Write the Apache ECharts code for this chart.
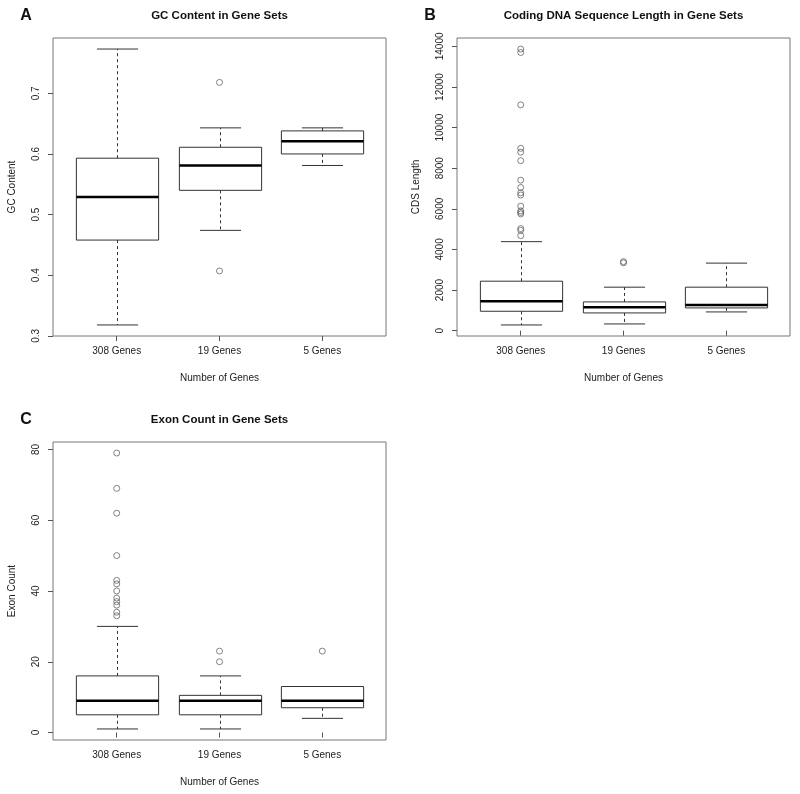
<!DOCTYPE html>
<html>
<head>
<meta charset="utf-8">
<script src="https://cdn.jsdelivr.net/npm/echarts@6/dist/echarts.min.js"></script>
<style>
html,body{margin:0;padding:0;background:#fff;}
#chart{width:800px;height:794px;}
</style>
</head>
<body>
<div id="chart"></div>
<script>
// ---- data ----
var categories = ['308 Genes', '19 Genes', '5 Genes'];

// stats per category: [lower whisker, Q1, median, Q3, upper whisker]
var gcStats = [
  [0.318, 0.458, 0.529, 0.593, 0.773],
  [0.474, 0.540, 0.581, 0.611, 0.643],
  [0.581, 0.600, 0.621, 0.638, 0.643]
];
// outliers: [category index (1-based), value]
var gcOutliers = [[2, 0.718], [2, 0.407]];
var gcTicks = [0.3, 0.4, 0.5, 0.6, 0.7];

var cdsStats = [
  [280, 955, 1450, 2436, 4383],
  [330, 873, 1153, 1416, 2141],
  [922, 1120, 1268, 2141, 3326]
];
var cdsOutliers = [
  [1, 13870], [1, 13700], [1, 11120], [1, 8980], [1, 8790], [1, 8370],
  [1, 7410], [1, 7050], [1, 6790], [1, 6680], [1, 6130], [1, 5900],
  [1, 5820], [1, 5750], [1, 5030], [1, 4940], [1, 4680],
  [2, 3400], [2, 3340]
];
var cdsTicks = [0, 2000, 4000, 6000, 8000, 10000, 12000, 14000];

var exonStats = [
  [1, 5, 9, 16, 30],
  [1, 5, 9, 10.5, 16],
  [4, 7, 9, 13, 13]
];
var exonOutliers = [
  [1, 79], [1, 69], [1, 62], [1, 50], [1, 43], [1, 42], [1, 40],
  [1, 38], [1, 37], [1, 36], [1, 34], [1, 33],
  [2, 23], [2, 20],
  [3, 23]
];
var exonTicks = [0, 20, 40, 60, 80];

var panelTitles = ['GC Content in Gene Sets', 'Coding DNA Sequence Length in Gene Sets', 'Exon Count in Gene Sets'];
var panelLetters = ['A', 'B', 'C'];
var yNames = ['GC Content', 'CDS Length', 'Exon Count'];
var xName = 'Number of Genes';

// ---- build ----
var FONT = '"Liberation Sans", Arial, Helvetica, sans-serif';
var panels = [
  {stats: gcStats, out: gcOutliers, ticks: gcTicks, grid: {left: 53, top: 38, width: 333, height: 298}},
  {stats: cdsStats, out: cdsOutliers, ticks: cdsTicks, grid: {left: 457, top: 38, width: 333, height: 298}},
  {stats: exonStats, out: exonOutliers, ticks: exonTicks, grid: {left: 53, top: 442, width: 333, height: 298}}
];

function rangeOf(stats, out) {
  var lo = Infinity, hi = -Infinity;
  stats.forEach(function (s) { s.forEach(function (v) { lo = Math.min(lo, v); hi = Math.max(hi, v); }); });
  out.forEach(function (o) { lo = Math.min(lo, o[1]); hi = Math.max(hi, o[1]); });
  var ext = (hi - lo) * 0.04;
  return [lo - ext, hi + ext];
}

function renderBox(params, api) {
  var x = api.value(0);
  var lo = api.coord([x, api.value(1)]);
  var q1 = api.coord([x, api.value(2)]);
  var md = api.coord([x, api.value(3)]);
  var q3 = api.coord([x, api.value(4)]);
  var hi = api.coord([x, api.value(5)]);
  var halfW = api.size([0.8, 0])[0] / 2;
  var capW = halfW / 2;
  var cx = Math.round(q1[0]) + 0.5;
  var dash = {stroke: '#333', lineWidth: 1, lineDash: [3, 3]};
  var solid = {stroke: '#333', lineWidth: 1};
  return {
    type: 'group',
    children: [
      {type: 'line', shape: {x1: cx, y1: q3[1], x2: cx, y2: hi[1]}, style: dash},
      {type: 'line', shape: {x1: cx, y1: q1[1], x2: cx, y2: lo[1]}, style: dash},
      {type: 'line', shape: {x1: cx - capW, y1: hi[1], x2: cx + capW, y2: hi[1]}, style: solid},
      {type: 'line', shape: {x1: cx - capW, y1: lo[1], x2: cx + capW, y2: lo[1]}, style: solid},
      {type: 'rect', shape: {x: cx - halfW, y: q3[1], width: 2 * halfW, height: q1[1] - q3[1]},
        style: {fill: '#fff', stroke: '#333', lineWidth: 1}},
      {type: 'line', shape: {x1: cx - halfW, y1: md[1], x2: cx + halfW, y2: md[1]},
        style: {stroke: '#000', lineWidth: 2.5}}
    ]
  };
}

var option = {
  animation: false,
  backgroundColor: '#fff',
  textStyle: {fontFamily: FONT},
  grid: [], xAxis: [], yAxis: [], series: [], graphic: []
};

panels.forEach(function (p, i) {
  var r = rangeOf(p.stats, p.out);
  option.grid.push(Object.assign({show: true, borderColor: '#777', borderWidth: 1, backgroundColor: 'transparent'}, p.grid));
  option.xAxis.push({
    type: 'value', gridIndex: i, min: 0.38, max: 3.62,
    axisLine: {show: false}, splitLine: {show: false},
    axisTick: {show: true, customValues: [1, 2, 3], length: 5, lineStyle: {color: '#555'}},
    axisLabel: {show: true, customValues: [1, 2, 3], margin: 10, fontSize: 10, color: '#222', fontFamily: FONT,
      formatter: function (v) { return categories[Math.round(v) - 1] || ''; }},
    name: xName, nameLocation: 'middle', nameGap: 37,
    nameTextStyle: {fontSize: 10, color: '#222', fontFamily: FONT}
  });
  option.yAxis.push({
    type: 'value', gridIndex: i, min: r[0], max: r[1],
    axisLine: {show: false}, splitLine: {show: false},
    axisTick: {show: true, customValues: p.ticks, length: 5, lineStyle: {color: '#555'}},
    axisLabel: {show: true, customValues: p.ticks, rotate: 90, margin: 12, fontSize: 10, color: '#222', fontFamily: FONT,
      formatter: function (v) { return String(v); }},
    name: yNames[i], nameLocation: 'middle', nameGap: 36, nameRotate: 90,
    nameTextStyle: {fontSize: 10, color: '#222', fontFamily: FONT}
  });
  option.series.push({
    type: 'custom', xAxisIndex: i, yAxisIndex: i,
    renderItem: renderBox,
    encode: {x: 0, y: [1, 2, 3, 4, 5]},
    data: p.stats.map(function (s, k) { return [k + 1].concat(s); }),
    z: 2
  });
  option.series.push({
    type: 'scatter', xAxisIndex: i, yAxisIndex: i,
    symbol: 'circle', symbolSize: 6,
    itemStyle: {color: 'rgba(255,255,255,0)', borderColor: '#555', borderWidth: 0.9},
    data: p.out,
    z: 3
  });
  var cxTitle = p.grid.left + p.grid.width / 2;
  option.graphic.push({
    type: 'text', x: cxTitle, y: p.grid.top - 22,
    style: {text: panelTitles[i], font: 'bold 11.5px ' + FONT, fill: '#111', textAlign: 'center', textVerticalAlign: 'middle'}
  });
  option.graphic.push({
    type: 'text', x: p.grid.left - 27, y: p.grid.top - 22,
    style: {text: panelLetters[i], font: 'bold 16px ' + FONT, fill: '#111', textAlign: 'center', textVerticalAlign: 'middle'}
  });
});

var chart = echarts.init(document.getElementById('chart'), null, {renderer: 'canvas'});
chart.setOption(option);
</script>
</body>
</html>
